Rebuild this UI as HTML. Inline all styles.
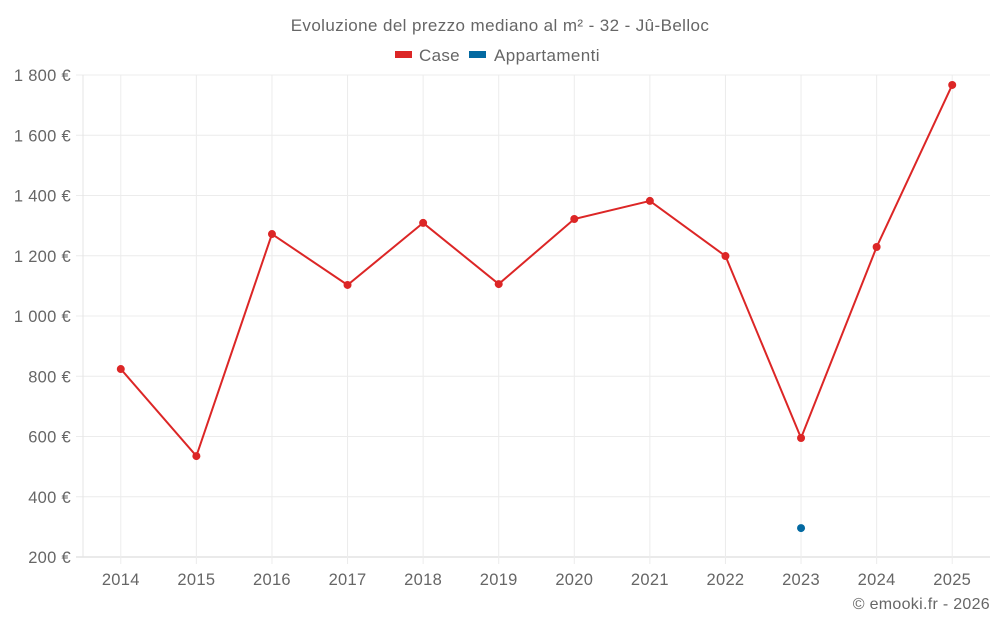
<!DOCTYPE html>
<html><head><meta charset="utf-8"><style>
body{margin:0;background:#fff;font-family:"Liberation Sans",sans-serif;}
svg{display:block}
text{fill:#666;font-family:"Liberation Sans",sans-serif;}
</style></head><body>
<svg id="c" width="1000" height="625">
<text x="500" y="31" text-anchor="middle" font-size="17" letter-spacing="0.4">Evoluzione del prezzo mediano al m² - 32 - Jû-Belloc</text>
<g>
<rect x="395" y="51" width="17" height="7" fill="#dc2626"/>
<text x="419" y="61" font-size="17" letter-spacing="0.3">Case</text>
<rect x="469" y="51" width="17" height="7" fill="#0369a1"/>
<text x="494" y="61" font-size="17" letter-spacing="0.4">Appartamenti</text>
</g>
<g id="grid"></g><g id="marks"></g>
<text x="990" y="609" text-anchor="end" font-size="16" letter-spacing="0.3">© emooki.fr - 2026</text>
</svg>
<script>
const categories=["2014","2015","2016","2017","2018","2019","2020","2021","2022","2023","2024","2025"];
const caseValues=[824,535,1272,1103,1309,1106,1322,1382,1199,595,1229,1767];
const appValues=[null,null,null,null,null,null,null,null,null,296,null,null];
const yTicks=[200,400,600,800,1000,1200,1400,1600,1800];
const L=83,R=990,T=75,B=557,yMin=200,yMax=1800;
const bw=(R-L)/categories.length;
const x=i=>L+bw*(i+0.5);
const y=v=>B-(v-yMin)/(yMax-yMin)*(B-T);
const NS="http://www.w3.org/2000/svg";
const g=document.getElementById('grid'),m=document.getElementById('marks');
function mk(p,tag,a){const e=document.createElementNS(NS,tag);for(const k in a)e.setAttribute(k,a[k]);p.appendChild(e);return e;}
yTicks.forEach(v=>{
 const l=mk(g,'line',{x1:76,x2:R,y1:y(v),y2:y(v),stroke:v===yMin?'#d6d6d6':'#ececec'});
 
 
 const t=mk(g,'text',{x:71,y:y(v)+6,'text-anchor':'end','font-size':16.5,'letter-spacing':0.3});
 t.textContent=v.toLocaleString('fr-FR').replace(/\s/g,' ')+' €';
 
 
});
const la=mk(g,'line',{x1:L,x2:L,y1:T,y2:B,stroke:'#e4e4e4'});


categories.forEach((c,i)=>{
 const l=mk(g,'line',{x1:x(i),x2:x(i),y1:T,y2:B+7,stroke:'#ececec'});
 
 
 const t=mk(g,'text',{x:x(i),y:585,'text-anchor':'middle','font-size':16.5,'letter-spacing':0.3});
 t.textContent=c;
 
 
});
const pts=caseValues.map((v,i)=>x(i)+','+y(v)).join(' ');
const pl=mk(m,'polyline',{points:pts,fill:'none',stroke:'#dc2626','stroke-width':2});


caseValues.forEach((v,i)=>{
 const c=mk(m,'circle',{cx:x(i),cy:y(v),r:4,fill:'#dc2626'});
 
 
});
appValues.forEach((v,i)=>{if(v==null)return;
 const c=mk(m,'circle',{cx:x(i),cy:y(v),r:4,fill:'#0369a1'});
 
 
});
</script>
</body></html>
